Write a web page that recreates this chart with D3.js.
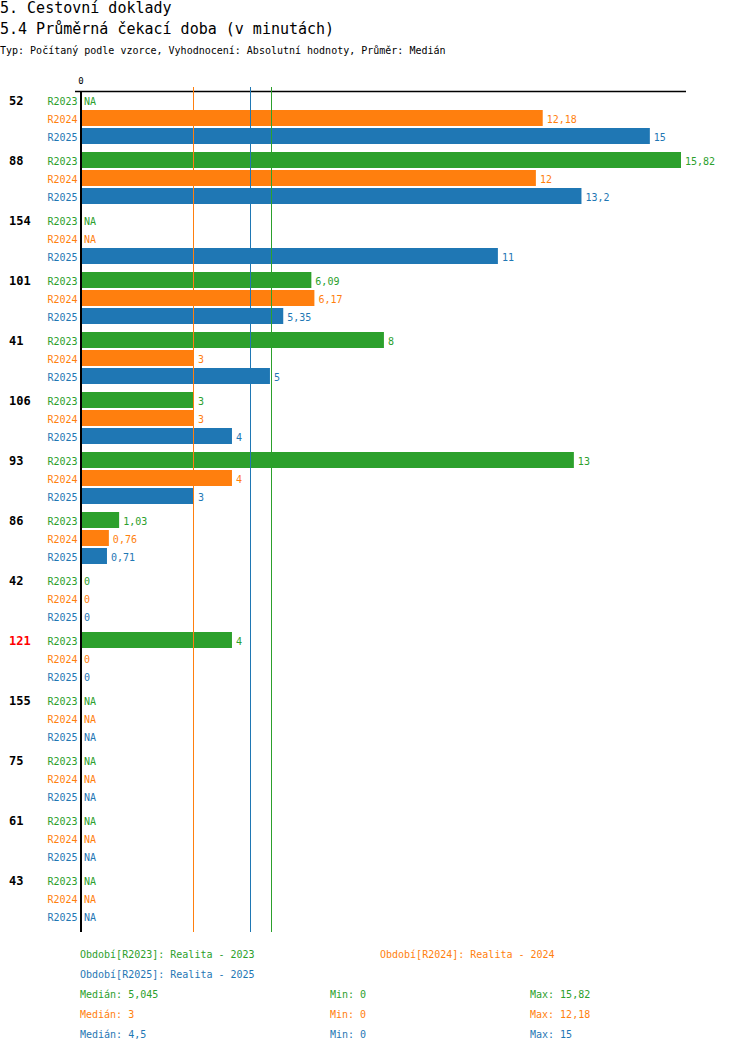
<!DOCTYPE html>
<html>
<head>
<meta charset="utf-8">
<script src="https://cdn.jsdelivr.net/npm/d3@7"></script>
<style>
  body { margin: 0; background: white; }
  text { font-family: "DejaVu Sans Mono", monospace; }
</style>
</head>
<body>
<svg id="chart" width="750" height="1052"></svg>
<script>
// data (null = NA)
var groups = ["52", "88", "154", "101", "41", "106", "93", "86", "42", "121", "155", "75", "61", "43"];
var redGroups = ["121"];
var periods = ["R2023", "R2024", "R2025"];
var periodNames = ["Realita - 2023", "Realita - 2024", "Realita - 2025"];
var r2023 = [null, 15.82, null, 6.09, 8, 3, 13, 1.03, 0, 4, null, null, null, null];
var r2024 = [12.18, 12, null, 6.17, 3, 3, 4, 0.76, 0, 0, null, null, null, null];
var r2025 = [15, 13.2, 11, 5.35, 5, 4, 3, 0.71, 0, 0, null, null, null, null];
var medians = [5.045, 3, 4.5];
var mins = [0, 0, 0];
var maxs = [15.82, 12.18, 15];
var colors = ["#2ca02c", "#ff7f0e", "#1f77b4"];

var series = [r2023, r2024, r2025];

var svg = d3.select("#chart");

function fmt(v) { return String(v).replace(".", ","); }

// header texts
svg.append("text").attr("x", 0).attr("y", 13).attr("font-size", "15px").text("5. Cestovní doklady");
svg.append("text").attr("x", 0).attr("y", 34).attr("font-size", "15px").text("5.4 Průměrná čekací doba (v minutách)");
svg.append("text").attr("x", 0).attr("y", 54).attr("font-size", "10px")
  .text("Typ: Počítaný podle vzorce, Vyhodnocení: Absolutní hodnoty, Průměr: Medián");

// scales
var x = d3.scaleLinear().domain([0, d3.max(maxs)]).range([80, 681]);
var yGroup = d3.scaleBand().domain(groups).range([92, 92 + 60 * groups.length]).paddingInner(0);
var yRow = d3.scaleBand().domain(periods).range([0, 54]);

// flatten rows
var rows = [];
groups.forEach(function(g, i) {
  periods.forEach(function(p, j) {
    rows.push({ group: g, period: p, idx: j, value: series[j][i] });
  });
});

function rowTop(d) { return yGroup(d.group) + yRow(d.period); }

// top axis line and zero tick
svg.append("line")
  .attr("x1", 75).attr("x2", 686)
  .attr("y1", 91.5).attr("y2", 91.5)
  .style("stroke", "black").style("stroke-width", 1.5);
svg.append("text")
  .attr("x", x(0) + 1).attr("y", 84)
  .attr("text-anchor", "middle")
  .attr("font-size", "9px")
  .text("0");

// bars
svg.append("g").selectAll("rect")
  .data(rows.filter(d => d.value != null && d.value > 0))
  .enter()
  .append("rect")
  .attr("x", x(0))
  .attr("y", d => rowTop(d))
  .attr("width", d => x(d.value) - x(0))
  .attr("height", 16)
  .style("fill", d => colors[d.idx]);

// value labels
svg.append("g").selectAll("text")
  .data(rows)
  .enter()
  .append("text")
  .attr("x", d => x(d.value == null ? 0 : d.value) + 4)
  .attr("y", d => rowTop(d) + 13)
  .attr("font-size", "10px")
  .attr("fill", d => colors[d.idx])
  .text(d => d.value == null ? "NA" : fmt(d.value));

// period labels
svg.append("g").selectAll("text")
  .data(rows)
  .enter()
  .append("text")
  .attr("x", 77.5)
  .attr("y", d => rowTop(d) + 13)
  .attr("text-anchor", "end")
  .attr("font-size", "10px")
  .attr("fill", d => colors[d.idx])
  .text(d => d.period);

// group labels
svg.append("g").selectAll("text")
  .data(groups)
  .enter()
  .append("text")
  .attr("x", 9)
  .attr("y", d => yGroup(d) + 13)
  .attr("font-size", "12px")
  .attr("font-weight", "bold")
  .attr("fill", d => redGroups.includes(d) ? "#ff0000" : "black")
  .text(d => d);

// median lines (on top of bars)
svg.append("g").selectAll("line")
  .data(medians)
  .enter()
  .append("line")
  .attr("x1", d => Math.round(x(d)) - 0.5)
  .attr("x2", d => Math.round(x(d)) - 0.5)
  .attr("y1", 87)
  .attr("y2", 932)
  .style("stroke", (d, i) => colors[i])
  .style("stroke-width", 1);

// vertical zero axis
svg.append("line")
  .attr("x1", 81).attr("x2", 81)
  .attr("y1", 91).attr("y2", 932)
  .style("stroke", "black").style("stroke-width", 2);

// legend
var legendPos = [[80, 958], [380, 958], [80, 978]];
svg.append("g").selectAll("text")
  .data(periods)
  .enter()
  .append("text")
  .attr("x", (d, i) => legendPos[i][0])
  .attr("y", (d, i) => legendPos[i][1])
  .attr("font-size", "10px")
  .attr("fill", (d, i) => colors[i])
  .text((d, i) => "Období[" + d + "]: " + periodNames[i]);

// median / min / max
var stats = svg.append("g").selectAll("g")
  .data(periods)
  .enter()
  .append("g")
  .attr("transform", (d, i) => "translate(0," + (998 + 20 * i) + ")")
  .attr("fill", (d, i) => colors[i])
  .attr("font-size", "10px");
stats.append("text").attr("x", 80).text((d, i) => "Medián: " + fmt(medians[i]));
stats.append("text").attr("x", 330).text((d, i) => "Min: " + fmt(mins[i]));
stats.append("text").attr("x", 530).text((d, i) => "Max: " + fmt(maxs[i]));
</script>
</body>
</html>
